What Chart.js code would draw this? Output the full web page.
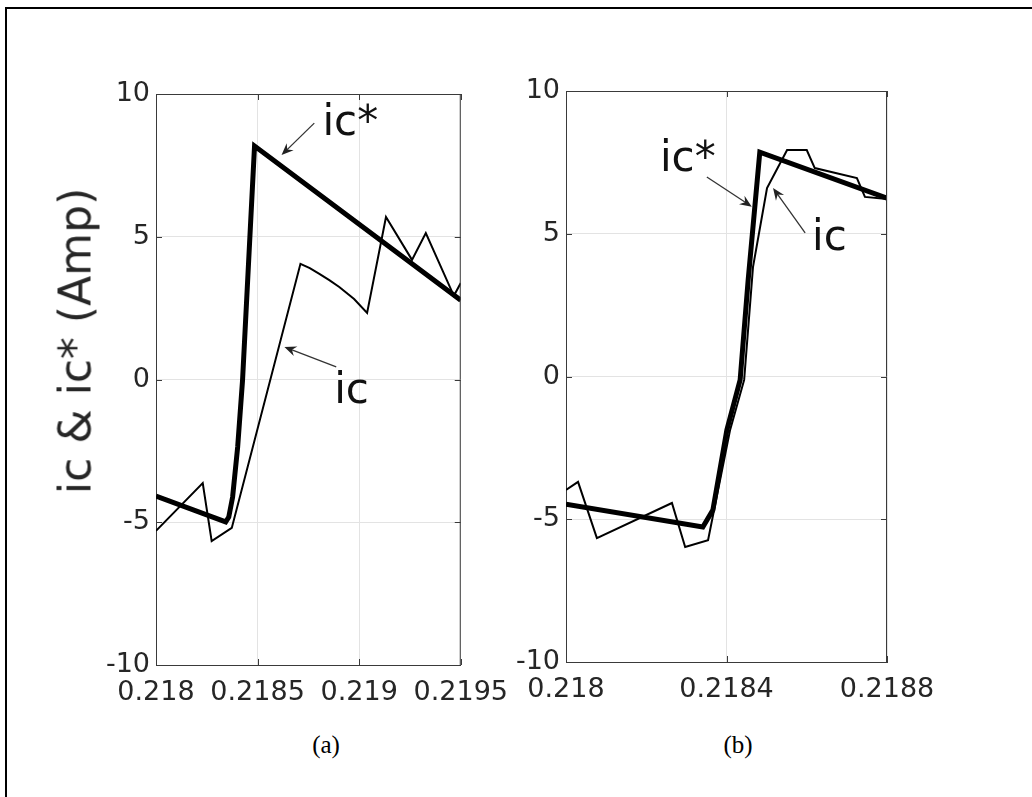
<!DOCTYPE html>
<html>
<head>
<meta charset="utf-8">
<script src="https://cdn.jsdelivr.net/npm/chart.js@4.4.1/dist/chart.umd.min.js"></script>
<style>
  html, body { margin: 0; padding: 0; background: #fff; width: 1032px; height: 797px; overflow: hidden; }
  #frame { position: absolute; left: 5px; top: 7px; width: 1100px; height: 900px;
           border-left: 2px solid #000; border-top: 2px solid #000; }
  canvas { position: absolute; top: 0; }
  #cA { left: 0; }
  #cB { left: 480px; }
  .ylab { position: absolute; left: 75px; top: 341px; white-space: nowrap;
          font-family: "DejaVu Sans", sans-serif; font-size: 44px; color: #262626;
          transform: translate(-50%, -50%) rotate(-90deg); }
  .cap { position: absolute; top: 745px; font-family: "Liberation Serif", serif; font-size: 25px;
         transform: translate(-50%, -50%); color: #000; }
</style>
</head>
<body>
<div id="frame"></div>
<canvas id="cA" width="520" height="720"></canvas>
<canvas id="cB" width="552" height="720"></canvas>
<div class="ylab">ic &amp; ic* (Amp)</div>
<div class="cap" style="left:326px">(a)</div>
<div class="cap" style="left:738px">(b)</div>
<script>
/* Two MATLAB-style panels: reference current ic* (thick) vs measured ic (thin). */

// tick values
const xTicksA = [0.218, 0.2185, 0.219, 0.2195];
const xTicksB = [0.218, 0.2184, 0.2188];
const yTicks  = [-10, -5, 0, 5, 10];

// panel (a)
const icStarAX = [0.218, 0.218343, 0.218358, 0.218377, 0.218402, 0.218426, 0.218485, 0.2195];
const icStarAY = [-4.08, -4.99, -4.82, -4.12, -2.36, -0.02, 8.18, 2.78];
const icAX = [0.218, 0.21823, 0.218274, 0.218373, 0.218711, 0.218757, 0.218804, 0.218853,
              0.218902, 0.218975, 0.219039, 0.219132, 0.21926, 0.219328, 0.219466, 0.2195];
const icAY = [-5.3, -3.63, -5.66, -5.2, 4.05, 3.9, 3.7, 3.48, 3.24, 2.82, 2.33, 5.69, 4.19,
              5.13, 2.93, 3.38];

// panel (b)
const icStarBX = [0.218, 0.218341, 0.218366, 0.218401, 0.218434, 0.218454, 0.218483, 0.2188];
const icStarBY = [-4.47, -5.27, -4.68, -1.87, -0.12, 3.38, 7.86, 6.25];
const icBX = [0.218, 0.21803, 0.218077, 0.218264, 0.218297, 0.218354, 0.218409, 0.218444,
              0.218466, 0.218501, 0.218551, 0.2186, 0.21862, 0.218725, 0.218745, 0.2188];
const icBY = [-3.97, -3.69, -5.66, -4.43, -5.97, -5.73, -1.87, -0.12, 3.83, 6.6, 7.93, 7.93,
              7.3, 6.95, 6.29, 6.22];

// text arrows: label anchor + arrow tail -> head, all in data units
const notesA = [
  { text: "ic*", at: [0.218819, 8.56], from: [0.218779, 8.98], to: [0.218618, 7.86] },
  { text: "ic",  at: [0.218877, -0.82], from: [0.218887, 0.44], to: [0.218632, 1.14] }
];
const notesB = [
  { text: "ic*", at: [0.218234, 7.2], from: [0.218351, 6.99], to: [0.218463, 5.95] },
  { text: "ic",  at: [0.218613, 4.43], from: [0.218596, 5.03], to: [0.218516, 6.6] }
];

const AXIS = "#3a3a3a", GRID = "#e3e3e3", TXT = "#262626", TICK = 6;
const zip = (xs, ys) => xs.map((x, i) => ({ x, y: ys[i] }));

function arrow(ctx, x0, y0, x1, y1) {
  const ang = Math.atan2(y1 - y0, x1 - x0), L = 12, W = 5;
  ctx.beginPath();
  ctx.moveTo(x0, y0);
  ctx.lineTo(x1 - Math.cos(ang) * 6, y1 - Math.sin(ang) * 6);
  ctx.stroke();
  ctx.beginPath();
  ctx.moveTo(x1, y1);
  ctx.lineTo(x1 - L * Math.cos(ang) + W * Math.sin(ang), y1 - L * Math.sin(ang) - W * Math.cos(ang));
  ctx.lineTo(x1 - 8 * Math.cos(ang), y1 - 8 * Math.sin(ang));
  ctx.lineTo(x1 - L * Math.cos(ang) - W * Math.sin(ang), y1 - L * Math.sin(ang) + W * Math.cos(ang));
  ctx.closePath();
  ctx.fill();
}

const boxPlugin = {
  id: "matlabBox",
  afterDraw(chart) {
    const { ctx, chartArea: a, scales: { x, y } } = chart;
    ctx.save();
    ctx.strokeStyle = AXIS; ctx.lineWidth = 1;
    ctx.beginPath();
    ctx.moveTo(a.left, a.top + 0.5); ctx.lineTo(a.right, a.top + 0.5);
    ctx.moveTo(a.right - 0.5, a.top); ctx.lineTo(a.right - 0.5, a.bottom);
    x.ticks.forEach(t => {
      const px = Math.round(x.getPixelForValue(t.value)) + 0.5;
      ctx.moveTo(px, a.bottom); ctx.lineTo(px, a.bottom - TICK);
      ctx.moveTo(px, a.top); ctx.lineTo(px, a.top + TICK);
    });
    y.ticks.forEach(t => {
      const py = Math.round(y.getPixelForValue(t.value)) + 0.5;
      ctx.moveTo(a.left, py); ctx.lineTo(a.left + TICK, py);
      ctx.moveTo(a.right, py); ctx.lineTo(a.right - TICK, py);
    });
    ctx.stroke();

    const notes = chart.options.plugins.matlabBox.notes || [];
    ctx.strokeStyle = "#333"; ctx.fillStyle = "#222"; ctx.lineWidth = 1.3;
    notes.forEach(n => {
      arrow(ctx, x.getPixelForValue(n.from[0]), y.getPixelForValue(n.from[1]),
                 x.getPixelForValue(n.to[0]), y.getPixelForValue(n.to[1]));
    });
    ctx.fillStyle = "#111";
    ctx.font = '42px "DejaVu Sans"';
    ctx.textAlign = "left"; ctx.textBaseline = "alphabetic";
    notes.forEach(n => ctx.fillText(n.text, x.getPixelForValue(n.at[0]), y.getPixelForValue(n.at[1])));
    ctx.restore();
  }
};

function panel(id, o) {
  const font = { family: "DejaVu Sans", size: 27 };
  return new Chart(document.getElementById(id), {
    type: "line",
    data: {
      datasets: [
        { label: "ic*", data: zip(o.starX, o.starY), borderColor: "#000", borderWidth: 5,
          pointRadius: 0, tension: 0, fill: false },
        { label: "ic", data: zip(o.icX, o.icY), borderColor: "#000", borderWidth: 2,
          pointRadius: 0, tension: 0, fill: false }
      ]
    },
    options: {
      responsive: false, animation: false, devicePixelRatio: 1,
      layout: { padding: o.pad },
      plugins: { legend: { display: false }, tooltip: { enabled: false }, matlabBox: { notes: o.notes } },
      scales: {
        x: {
          type: "linear", min: o.xTicks[0], max: o.xTicks[o.xTicks.length - 1],
          afterBuildTicks: s => { s.ticks = o.xTicks.map(v => ({ value: v })); },
          afterFit: s => { s.height = o.xH; },
          ticks: { autoSkip: false, maxRotation: 0, padding: 12, color: TXT, font,
                   callback: v => String(v) },
          grid: { color: GRID, drawTicks: false },
          border: { color: AXIS, width: 1 }
        },
        y: {
          type: "linear", min: -10, max: 10,
          afterBuildTicks: s => { s.ticks = yTicks.map(v => ({ value: v })); },
          afterFit: s => { s.width = o.yW; },
          ticks: { padding: 6, color: TXT, font, callback: v => String(v) },
          grid: { color: GRID, drawTicks: false },
          border: { color: AXIS, width: 1 }
        }
      }
    },
    plugins: [boxPlugin]
  });
}

panel("cA", { starX: icStarAX, starY: icStarAY, icX: icAX, icY: icAY, xTicks: xTicksA,
              notes: notesA, pad: { left: 0, top: 94, right: 58, bottom: 0 }, yW: 156, xH: 55 });
panel("cB", { starX: icStarBX, starY: icStarBY, icX: icBX, icY: icBY, xTicks: xTicksB,
              notes: notesB, pad: { left: 0, top: 91, right: 145, bottom: 0 }, yW: 86, xH: 58 });
</script>
</body>
</html>
